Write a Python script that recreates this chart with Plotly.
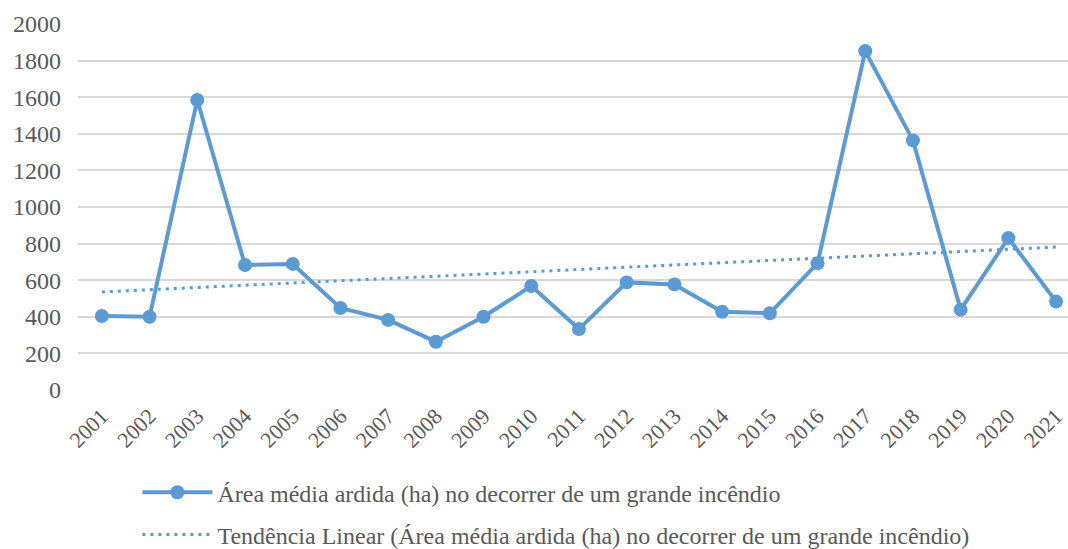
import numpy as np
import plotly.graph_objects as go

years = list(range(2001, 2022))
area = [404, 400, 1585, 683, 689, 448, 383, 264, 400, 568, 333, 588, 577, 428, 419, 692, 1852, 1364, 439, 830, 483]
y_ticks = [0, 200, 400, 600, 800, 1000, 1200, 1400, 1600, 1800, 2000]

name_main = "Área média ardida (ha) no decorrer de um grande incêndio"
name_trend = "Tendência Linear (Área média ardida (ha) no decorrer de um grande incêndio)"

coef = np.polyfit(years, area, 1)
trend = [coef[0] * y + coef[1] for y in years]

color = "#5B9BD5"
font = "Liberation Serif"

fig = go.Figure()
fig.add_trace(go.Scatter(
    x=years, y=area, mode="lines+markers", name=name_main,
    line=dict(color=color, width=4), marker=dict(size=14, color=color),
    legendgroup="a", legendrank=1,
))
fig.add_trace(go.Scatter(
    x=years, y=trend, mode="lines", name=name_trend,
    line=dict(color=color, width=3, dash="3px,5px"),
    legendgroup="b", legendrank=2,
))

fig.update_layout(
    width=1068, height=549,
    margin=dict(l=78, r=0, t=24, b=159, autoexpand=False),
    paper_bgcolor="white", plot_bgcolor="white",
    font=dict(family=font, size=22, color="#595959"),
    showlegend=True,
    legend=dict(
        orientation="v", x=0.06, y=-0.219, xanchor="left", yanchor="top",
        font=dict(family=font, size=24, color="#595959"),
        tracegroupgap=8, itemwidth=70, bgcolor="rgba(0,0,0,0)",
    ),
    xaxis=dict(
        range=[2000.5, 2021.25], tickmode="array", tickvals=years,
        ticktext=[str(y) for y in years], tickangle=-45,
        showgrid=False, zeroline=False, showline=False, ticks="",
        tickfont=dict(family=font, size=22, color="#595959"),
        ticklabelstandoff=8,
        automargin=False,
    ),
    yaxis=dict(
        range=[0, 2000], tickmode="array", tickvals=y_ticks,
        showgrid=True, gridcolor="#D9D9D9", gridwidth=1.5,
        zeroline=False, showline=False, ticks="",
        tickfont=dict(family=font, size=24, color="#595959"),
        ticklabelstandoff=16,
        automargin=False,
    ),
)

fig.write_html("out.html", config={"displayModeBar": False},
               post_script="document.body.style.margin='0';")
